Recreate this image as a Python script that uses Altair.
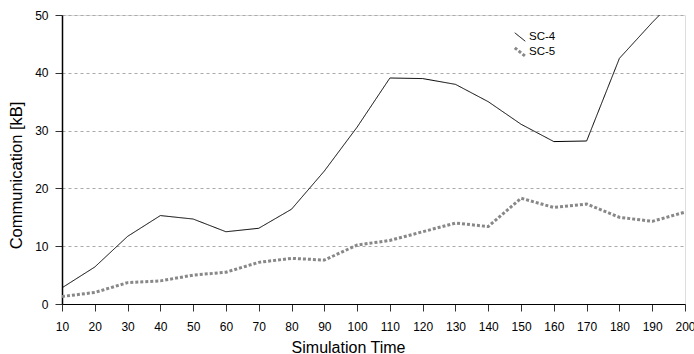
import altair as alt
import pandas as pd

times = [10, 20, 30, 40, 50, 60, 70, 80, 90, 100, 110, 120, 130, 140, 150, 160, 170, 180, 190, 200]
sc4 = [2.8, 6.4, 11.7, 15.3, 14.7, 12.5, 13.1, 16.4, 23.0, 30.6, 39.1, 39.0, 38.0, 35.0, 31.1, 28.1, 28.2, 42.5, 48.7, 54.5]
sc5 = [1.3, 2.0, 3.7, 4.0, 5.0, 5.5, 7.2, 7.9, 7.6, 10.2, 11.0, 12.5, 14.0, 13.4, 18.3, 16.7, 17.3, 15.0, 14.3, 15.9]
series = ["SC-4", "SC-5"]

rows = []
for name, vals in zip(series, [sc4, sc5]):
    for t, v in zip(times, vals):
        rows.append({"time": t, "value": v, "series": name})
df = pd.DataFrame(rows)

FONT = "Liberation Sans"

chart = alt.Chart(df).mark_line(clip=True).encode(
    x=alt.X("time:Q", title="Simulation Time",
            scale=alt.Scale(domain=[10, 200], nice=False, zero=False),
            axis=alt.Axis(values=times, grid=False, tickSize=7, labelPadding=10,
                          titlePadding=7, labelFontSize=12, titleFontSize=16, titleX=286,
                          domainColor="black", tickColor="#333", labelColor="black",
                          titleColor="black", titleFontWeight="normal", labelFlush=False)),
    y=alt.Y("value:Q", title="Communication [kB]",
            scale=alt.Scale(domain=[0, 50], nice=False),
            axis=alt.Axis(values=[0, 10, 20, 30, 40, 50], grid=True, gridDash=[3, 3],
                          gridColor="#aaaaaa", tickSize=7, labelPadding=7, titlePadding=10,
                          labelFontSize=12, titleFontSize=16.5, titleY=160, domainColor="black",
                          domainWidth=1.5, tickColor="#333", labelColor="black",
                          titleColor="black", titleFontWeight="normal")),
    color=alt.Color("series:N", scale=alt.Scale(domain=series, range=["black", "#888888"]),
                    legend=alt.Legend(title=None, orient="none", legendX=451, legendY=16,
                                      symbolType="M-1,-0.8L1,0.8", symbolSize=110,
                                      labelFontSize=11.5, labelOffset=2, rowPadding=-3,
                                      padding=0, labelColor="black", symbolFillColor="transparent")),
    strokeDash=alt.StrokeDash("series:N", scale=alt.Scale(domain=series, range=[[1, 0], [3, 2]]), legend=None),
    strokeWidth=alt.StrokeWidth("series:N", scale=alt.Scale(domain=series, range=[1, 3]), legend=None),
).properties(
    width=623, height=289,
    padding={"left": 62, "top": 15, "right": 9, "bottom": 50},
    autosize=alt.AutoSizeParams(type="none"),
).configure_view(stroke=None).configure(font=FONT)

chart.save("out.html", embed_options={"renderer": "svg", "actions": False})
